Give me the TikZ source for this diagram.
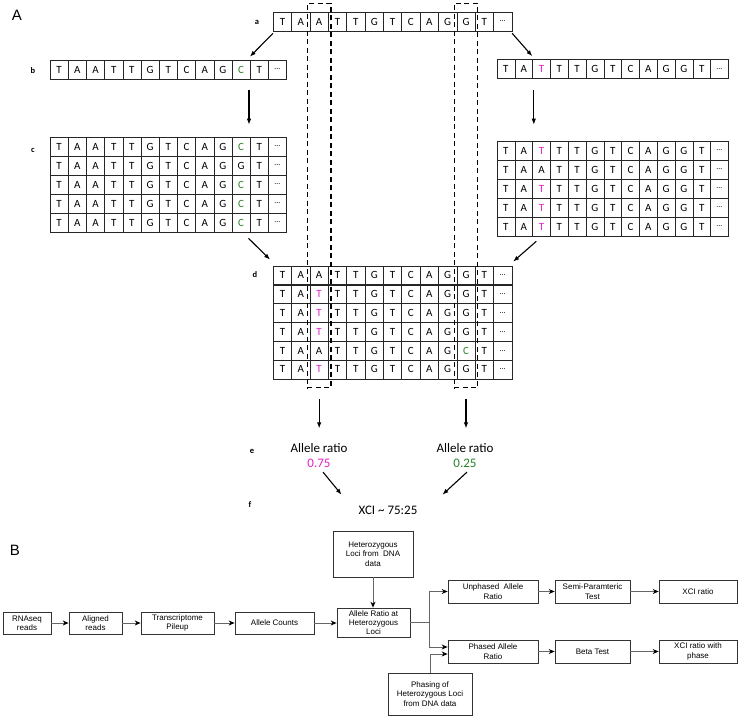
\documentclass[tikz,border=0pt]{standalone}
\usepackage{fontspec}
\setmainfont{Carlito}
\newfontfamily\arialfont{Liberation Sans}
\usetikzlibrary{arrows.meta,fit}

\definecolor{mg}{RGB}{225,35,200}
\definecolor{gn}{RGB}{40,130,40}
\newcommand{\mg}[1]{\textcolor{mg}{#1}}
\newcommand{\gn}[1]{\textcolor{gn}{#1}}
\newcommand{\dts}{{\fontsize{8}{8}\selectfont\ldots}}

% one row of bases: name, left x, cell width, centre y, bases
\newcommand{\seqrow}[5]{%
  \foreach \base [count=\i] in {#5}
    \node[cell, minimum width=#3pt] (#1-\i) at ({#2+(\i-0.5)*#3}, #4) {\base};
}

\begin{document}
\begin{tikzpicture}[x=1pt, y=-1pt,
  cell/.style={draw=black!85, line width=0.6pt, inner sep=0pt, minimum height=19pt, font=\fontsize{11}{11}\selectfont},
  dbox/.style={draw, line width=1.3pt, dash pattern=on 5pt off 3.5pt, inner xsep=2.3pt, inner ysep=8.5pt},
  arr/.style={line width=1.1pt, -{Latex[length=6pt,width=4.5pt]}},
  lbl/.style={font=\bfseries\fontsize{8.5}{8.5}\selectfont},
  ratio/.style={align=center, font=\fontsize{13}{15}\selectfont},
  bbox/.style={draw=black!80, line width=0.7pt, align=center, inner sep=1pt, font=\arialfont\fontsize{8}{9.3}\selectfont},
  flow/.style={draw=black!60, line width=0.9pt, -{Stealth[length=6pt,width=5pt,color=black]}}]

\useasboundingbox (0,0) rectangle (742,718);

% panel labels
\node[font=\arialfont\fontsize{15}{15}\selectfont] (pA) at (17,15) {A};
\node[font=\arialfont\fontsize{15}{15}\selectfont] (pB) at (15,550) {B};

% a: reference
\node[lbl] (la) at (257,22) {a};
\seqrow{a}{273.3}{18.35}{21.5}{T,A,A,T,T,G,T,C,A,G,G,T,\dts}

% b: the two haplotypes
\node[lbl] (lb) at (33,71) {b};
\seqrow{bl}{50}{18.2}{69.5}{T,A,A,T,T,G,T,C,A,G,\gn{C},T,\dts}
\seqrow{br}{497}{17.8}{69}{T,A,\mg{T},T,T,G,T,C,A,G,G,T,\dts}

% c: reads from each haplotype
\node[lbl] (lc) at (33,150) {c};
\seqrow{cl1}{50}{18.2}{146.5}{T,A,A,T,T,G,T,C,A,G,\gn{C},T,\dts}
\seqrow{cl2}{50}{18.2}{165.5}{T,A,A,T,T,G,T,C,A,G,G,T,\dts}
\seqrow{cl3}{50}{18.2}{184.5}{T,A,A,T,T,G,T,C,A,G,\gn{C},T,\dts}
\seqrow{cl4}{50}{18.2}{203.5}{T,A,A,T,T,G,T,C,A,G,\gn{C},T,\dts}
\seqrow{cl5}{50}{18.2}{222.5}{T,A,A,T,T,G,T,C,A,G,\gn{C},T,\dts}

\seqrow{cr1}{497}{17.8}{150.5}{T,A,\mg{T},T,T,G,T,C,A,G,G,T,\dts}
\seqrow{cr2}{497}{17.8}{169.5}{T,A,A,T,T,G,T,C,A,G,G,T,\dts}
\seqrow{cr3}{497}{17.8}{188.5}{T,A,\mg{T},T,T,G,T,C,A,G,G,T,\dts}
\seqrow{cr4}{497}{17.8}{207.5}{T,A,\mg{T},T,T,G,T,C,A,G,G,T,\dts}
\seqrow{cr5}{497}{17.8}{226.5}{T,A,\mg{T},T,T,G,T,C,A,G,G,T,\dts}

% d: pooled reads
\node[lbl] (ld) at (255,275) {d};
\seqrow{d1}{273.3}{18.35}{275.4}{T,A,A,T,T,G,T,C,A,G,G,T,\dts}
\seqrow{d2}{273.3}{18.35}{294.2}{T,A,\mg{T},T,T,G,T,C,A,G,G,T,\dts}
\seqrow{d3}{273.3}{18.35}{313.0}{T,A,\mg{T},T,T,G,T,C,A,G,G,T,\dts}
\seqrow{d4}{273.3}{18.35}{331.8}{T,A,\mg{T},T,T,G,T,C,A,G,G,T,\dts}
\seqrow{d5}{273.3}{18.35}{350.6}{T,A,A,T,T,G,T,C,A,G,\gn{C},T,\dts}
\seqrow{d6}{273.3}{18.35}{369.4}{T,A,\mg{T},T,T,G,T,C,A,G,G,T,\dts}

% dashed columns over the two loci
\node[dbox, fit=(a-3)(d6-3)] (col1) {};
\node[dbox, fit=(a-11)(d6-11)] (col2) {};

% arrows a -> b -> c -> d
\draw[arr] ([shift={(0,2)}]a-1.south west) -- ([shift={(0,-3)}]bl-12.north west);
\draw[arr] ([shift={(0,2)}]a-13.south east) -- ([shift={(0,-3)}]br-3.north west);
\draw[arr] ([shift={(-1.5,11)}]bl-11.south east) -- ([shift={(-1.5,-12)}]cl1-11.north east);
\draw[arr] ([shift={(1.5,11)}]br-3.south west) -- ([shift={(1.5,-16)}]cr1-3.north west);
\draw[arr] ([shift={(-2,6)}]cl5-11.south east) -- ([shift={(-3,-6)}]d1-1.north west);
\draw[arr] ([shift={(4,5)}]cr5-3.south west) -- ([shift={(1,-4)}]d1-13.north east);

% e: allele ratios
\node[lbl] (le) at (252,451) {e};
\node[ratio] (rat1) at (319,455.5) {Allele ratio\\\mg{0.75}};
\node[ratio] (rat2) at (465,455.5) {Allele ratio\\\gn{0.25}};
\draw[arr, shorten <=11pt, shorten >=11.5pt] (col1.south) -- (col1.south |- rat1.north);
\draw[arr, shorten <=11pt, shorten >=11.5pt] (col2.south) -- (col2.south |- rat2.north);

% f: XCI
\node[lbl] (lf) at (250,505) {f};
\node[font=\fontsize{13}{15}\selectfont] (xci) at (388,510) {XCI \textasciitilde{} 75:25};
\draw[arr] ([shift={(4,1)}]rat1.south) -- ([shift={(-13.5,-7.5)}]xci.north west);
\draw[arr] ([shift={(2,1)}]rat2.south) -- ([shift={(21.5,-7.5)}]xci.north east);

% B: pipeline
\node[bbox, minimum width=48pt, minimum height=22pt] (rna) at (27,623) {RNAseq\\reads};
\node[bbox, minimum width=53pt, minimum height=22pt] (aligned) at (95.5,623) {Aligned\\reads};
\node[bbox, minimum width=73pt, minimum height=22pt] (pileup) at (177.5,623) {Transcriptome\\Pileup};
\node[bbox, minimum width=79pt, minimum height=22pt] (counts) at (274.5,623) {Allele Counts};
\node[bbox, minimum width=73pt, minimum height=29pt] (ratio) at (373.5,622.5) {Allele Ratio at\\Heterozygous\\Loci};
\node[bbox, minimum width=80pt, minimum height=46pt] (het) at (373,554) {Heterozygous\\Loci from~ DNA\\data};
\node[bbox, minimum width=90pt, minimum height=23pt] (unph) at (493,591.5) {Unphased~ Allele\\Ratio};
\node[bbox, minimum width=75pt, minimum height=23pt] (semi) at (592.5,591.5) {Semi-Paramteric\\Test};
\node[bbox, minimum width=78pt, minimum height=23pt] (xci1) at (698,591.5) {XCI ratio};
\node[bbox, minimum width=90pt, minimum height=23pt] (ph) at (493,651.5) {Phased Allele\\Ratio};
\node[bbox, minimum width=75pt, minimum height=23pt] (beta) at (592.5,651.5) {Beta Test};
\node[bbox, minimum width=78pt, minimum height=23pt] (xci2) at (698,651.5) {XCI ratio with\\phase};
\node[bbox, minimum width=84pt, minimum height=42pt] (phasing) at (430,694) {Phasing of\\Heterozygous Loci\\from DNA data};

\draw[flow] (rna) -- (aligned);
\draw[flow] (aligned) -- (pileup);
\draw[flow] (pileup) -- (counts);
\draw[flow] (counts.east) -- (counts.east -| ratio.west);
\draw[flow] (het.south) -- (het.south |- ratio.north);
\draw[draw=black!60, line width=0.9pt] (ratio.east) -- ++(19,0) coordinate (jn);
\draw[flow] (jn) |- (unph.west);
\draw[flow] (jn) |- ([yshift=4.5pt]ph.west);
\draw[flow] (phasing.north) |- ([yshift=-2.5pt]ph.west);
\draw[flow] (unph) -- (semi);
\draw[flow] (semi) -- (xci1);
\draw[flow] (ph) -- (beta);
\draw[flow] (beta) -- (xci2);

\end{tikzpicture}
\end{document}
